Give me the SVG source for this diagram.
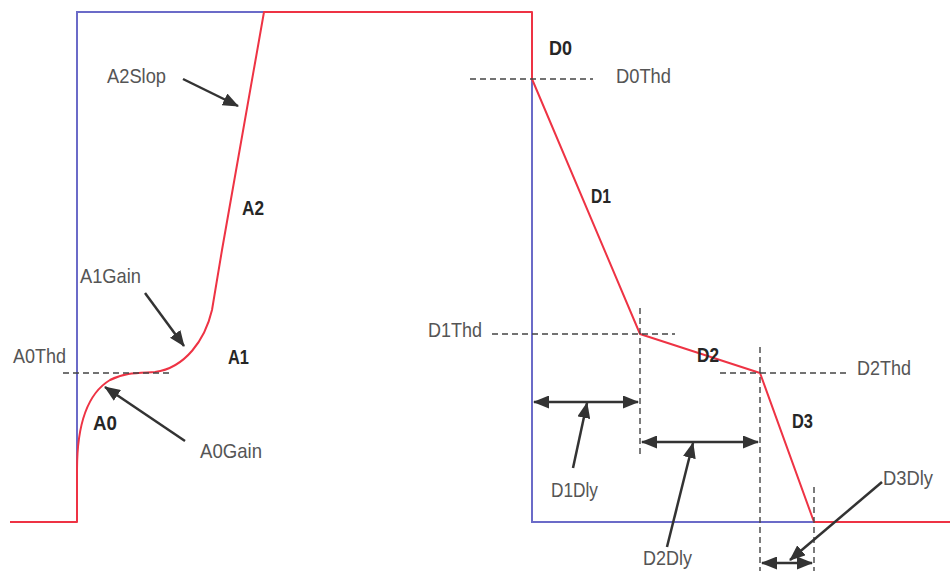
<svg xmlns="http://www.w3.org/2000/svg" width="950" height="571" viewBox="0 0 950 571">
<defs>
<marker id="ah" markerUnits="userSpaceOnUse" markerWidth="16" markerHeight="13" refX="15" refY="6.5" orient="auto-start-reverse" viewBox="0 0 16 13">
<path d="M0,0 L16,6.5 L0,13 z" fill="#333"/>
</marker>
<style>
.blue{fill:none;stroke:#6b6bc8;stroke-width:2}
.red{fill:none;stroke:#ee3344;stroke-width:2;stroke-linejoin:round}
.dash{fill:none;stroke:#444;stroke-width:1.4;stroke-dasharray:6,4}
.arr{fill:none;stroke:#333;stroke-width:2.5;marker-end:url(#ah)}
.dbl{fill:none;stroke:#333;stroke-width:2.5;marker-end:url(#ah);marker-start:url(#ah)}
.lbl{font-family:"Liberation Sans",Arial,sans-serif;font-size:21px;fill:#555}
.bld{font-family:"Liberation Sans",Arial,sans-serif;font-size:21px;font-weight:bold;fill:#262626}
</style>
</defs>
<rect width="950" height="571" fill="#fff"/>
<g id="signal">
<path class="blue" d="M77,522 V12 H264"/>
<path class="blue" d="M532,79 V522 H814"/>
<path class="red" d="M10,522 H77 V470 C77,430 85,395 110,380 C125,372 140,373 155,372 C185,368 205,340 212,310 L222,250 L264,12 H532 V79 L640,334 L760,373 L814,522 H950"/>
</g>
<g id="thresholds">
<line class="dash" x1="63" y1="373" x2="170" y2="373"/>
<line class="dash" x1="470" y1="79" x2="593" y2="79"/>
<line class="dash" x1="492" y1="334" x2="675" y2="334"/>
<line class="dash" x1="720" y1="373" x2="847" y2="373"/>
<line class="dash" x1="640" y1="308" x2="640" y2="455"/>
<line class="dash" x1="760" y1="347" x2="760" y2="571"/>
<line class="dash" x1="814" y1="487" x2="814" y2="571"/>
</g>
<g id="connectors">
<line class="arr" x1="183" y1="79" x2="238" y2="106"/>
<line class="arr" x1="145" y1="293" x2="184" y2="346"/>
<line class="arr" x1="185" y1="441" x2="105" y2="387"/>
<line class="arr" x1="573" y1="468" x2="587" y2="403"/>
<line class="arr" x1="667" y1="547" x2="693" y2="443"/>
<line class="arr" x1="882" y1="482" x2="790" y2="560"/>
<line class="dbl" x1="534" y1="402" x2="638" y2="402"/>
<line class="dbl" x1="642" y1="442" x2="758" y2="442"/>
<line class="dbl" x1="762" y1="563" x2="812" y2="563"/>
</g>
<g id="labels">
<text class="lbl" x="107" y="83" textLength="59" lengthAdjust="spacingAndGlyphs">A2Slop</text>
<text class="lbl" x="80" y="283" textLength="61" lengthAdjust="spacingAndGlyphs">A1Gain</text>
<text class="lbl" x="13" y="363" textLength="53" lengthAdjust="spacingAndGlyphs">A0Thd</text>
<text class="lbl" x="200" y="458" textLength="62" lengthAdjust="spacingAndGlyphs">A0Gain</text>
<text class="bld" x="242" y="215" textLength="22" lengthAdjust="spacingAndGlyphs">A2</text>
<text class="bld" x="228" y="364" textLength="21" lengthAdjust="spacingAndGlyphs">A1</text>
<text class="bld" x="93" y="430" textLength="24" lengthAdjust="spacingAndGlyphs">A0</text>
<text class="bld" x="549" y="55" textLength="23" lengthAdjust="spacingAndGlyphs">D0</text>
<text class="lbl" x="616" y="83" textLength="55" lengthAdjust="spacingAndGlyphs">D0Thd</text>
<text class="bld" x="591" y="203" textLength="20" lengthAdjust="spacingAndGlyphs">D1</text>
<text class="lbl" x="428" y="337" textLength="54" lengthAdjust="spacingAndGlyphs">D1Thd</text>
<text class="bld" x="697" y="362" textLength="22" lengthAdjust="spacingAndGlyphs">D2</text>
<text class="lbl" x="857" y="375" textLength="54" lengthAdjust="spacingAndGlyphs">D2Thd</text>
<text class="bld" x="792" y="428" textLength="21" lengthAdjust="spacingAndGlyphs">D3</text>
<text class="lbl" x="551" y="497" textLength="47" lengthAdjust="spacingAndGlyphs">D1Dly</text>
<text class="lbl" x="643" y="565" textLength="49" lengthAdjust="spacingAndGlyphs">D2Dly</text>
<text class="lbl" x="883" y="485" textLength="50" lengthAdjust="spacingAndGlyphs">D3Dly</text>
</g>
</svg>
